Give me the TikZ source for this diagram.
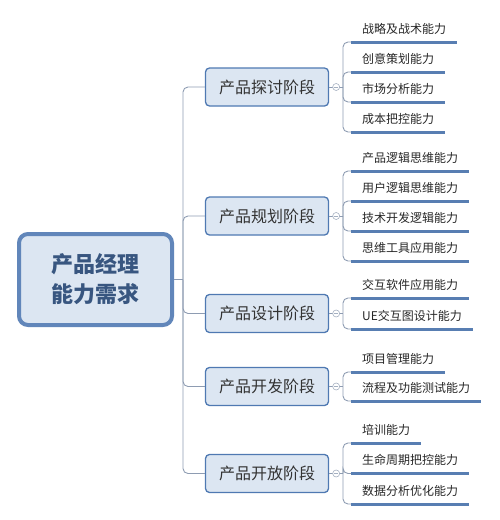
\documentclass[tikz,border=0pt]{standalone}
\usepackage{fontspec}
\newfontfamily\cjk{Noto Sans CJK SC}
\definecolor{linkgray}{RGB}{142,156,178}
\definecolor{boxblue}{RGB}{79,121,178}
\definecolor{boxfill}{RGB}{220,230,242}
\definecolor{barblue}{RGB}{88,126,178}
\definecolor{roottext}{RGB}{56,86,128}
\tikzstyle{root}=[draw=boxblue!90,line width=4pt,fill=boxfill,rounded corners=9pt,minimum width=153pt,minimum height=91pt,align=center,text=roottext,font=\cjk\bfseries\fontsize{22}{30}\selectfont]
\tikzstyle{stage}=[draw=boxblue,line width=1.3pt,fill=boxfill,rounded corners=4pt,minimum width=123pt,minimum height=38pt,text=black!80,font=\cjk\fontsize{16}{16}\selectfont]
\tikzstyle{item}=[anchor=south west,inner xsep=11pt,inner ysep=6.5pt,text height=9pt,text depth=2pt,text=black!85,font=\cjk\fontsize{12}{12}\selectfont]
\tikzstyle{link}=[draw=linkgray,line width=0.9pt,rounded corners=5pt]
\tikzstyle{bar}=[draw=barblue,line width=3pt]
\tikzstyle{fold}=[circle,draw=linkgray!80,fill=white,line width=0.6pt,inner sep=0pt,minimum size=7pt]

\begin{document}
\begin{tikzpicture}[x=1pt,y=-1pt]
\useasboundingbox (0,0) rectangle (499,520);
\node[root] (root) at (95.5,279.5) {产品经理\\能力需求};
\coordinate (hub) at (183,279.5);
\node[stage] (1) at (267,87) {产品探讨阶段};
\node[stage] (2) at (267,216) {产品规划阶段};
\node[stage] (3) at (267,313.5) {产品设计阶段};
\node[stage] (4) at (267,386.5) {产品开发阶段};
\node[stage] (5) at (267,473.5) {产品开放阶段};
\draw[link] (root.east) -- (hub);
\foreach \n in {1,...,5} \draw[link] (hub) |- (\n.west);

\node[item] (1a) at (351,42) {战略及战术能力};
\node[item] (1b) at (351,72) {创意策划能力};
\node[item] (1c) at (351,102) {市场分析能力};
\node[item] (1d) at (351,132) {成本把控能力};
\node[item] (2a) at (351,171) {产品逻辑思维能力};
\node[item] (2b) at (351,201) {用户逻辑思维能力};
\node[item] (2c) at (351,231) {技术开发逻辑能力};
\node[item] (2d) at (351,261) {思维工具应用能力};
\node[item] (3a) at (351,298) {交互软件应用能力};
\node[item] (3b) at (351,329) {UE交互图设计能力};
\node[item] (4a) at (351,372) {项目管理能力};
\node[item] (4b) at (351,401) {流程及功能测试能力};
\node[item] (5a) at (351,443) {培训能力};
\node[item] (5b) at (351,473.5) {生命周期把控能力};
\node[item] (5c) at (351,504) {数据分析优化能力};

\coordinate (j1) at (343,87);
\coordinate (j2) at (343,216);
\coordinate (j3) at (343,313.5);
\coordinate (j4) at (343,386.5);
\coordinate (j5) at (343,473.5);
\foreach \n in {1,...,5} \draw[link] (\n.east) -- (j\n);
\foreach \s in {1a,1b,1c,1d} \draw[link] (j1) |- (\s.south west);
\foreach \s in {2a,2b,2c,2d} \draw[link] (j2) |- (\s.south west);
\foreach \s in {3a,3b} \draw[link] (j3) |- (\s.south west);
\foreach \s in {4a,4b} \draw[link] (j4) |- (\s.south west);
\foreach \s in {5a,5b,5c} \draw[link] (j5) |- (\s.south west);
\foreach \s in {1a,1b,1c,1d,2a,2b,2c,2d,3a,3b,4a,4b,5a,5b,5c}
  \draw[bar] (\s.south west) -- (\s.south east);

\foreach \n in {1,...,5} {
  \node[fold] (f\n) at ([xshift=7pt]\n.east) {};
  \draw[linkgray!80,line width=0.6pt] ([xshift=1.5pt]f\n.west) -- ([xshift=-1.5pt]f\n.east);
}
\end{tikzpicture}
\end{document}
